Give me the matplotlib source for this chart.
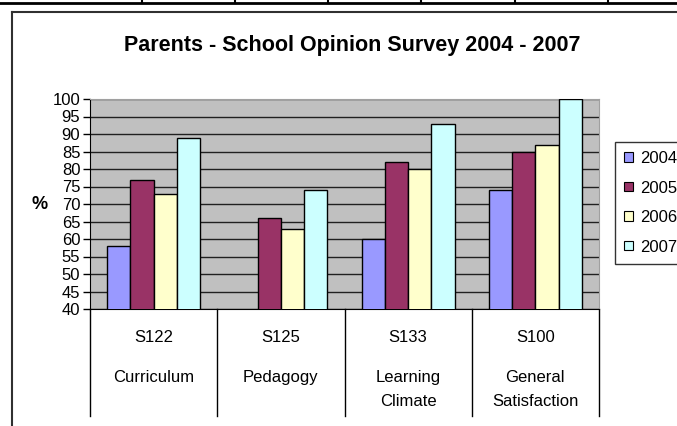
import numpy as np
import matplotlib
matplotlib.use("Agg")
import matplotlib.pyplot as plt
from matplotlib.lines import Line2D
from matplotlib.patches import Patch

plt.rcParams['font.family'] = ['Liberation Sans', 'DejaVu Sans']

codes = ["S122", "S125", "S133", "S100"]
areas = ["Curriculum", "Pedagogy", "Learning\nClimate", "General\nSatisfaction"]
years = ["2004", "2005", "2006", "2007"]
v2004 = [58, np.nan, 60, 74]
v2005 = [77, 66, 82, 85]
v2006 = [73, 63, 80, 87]
v2007 = [89, 74, 93, 100]
colors = ["#9999FF", "#993366", "#FFFFCC", "#CCFFFF"]

W, H = 677, 426
fig = plt.figure(figsize=(W / 100, H / 100), dpi=100)

# plot area in pixel terms
left, right, top, bottom = 90, 599, 99, 309
ax = fig.add_axes([left / W, 1 - bottom / H, (right - left) / W, (bottom - top) / H])
ax.set_facecolor("#C0C0C0")

x = np.arange(len(codes))
bw = 0.183
for i, (vals, c) in enumerate(zip([v2004, v2005, v2006, v2007], colors)):
    ax.bar(x + (i - 1.5) * bw, vals, bw, color=c, edgecolor="black",
           linewidth=1.0, zorder=3)

ax.set_xlim(-0.5, len(codes) - 0.5)
ax.set_ylim(40, 100)
ax.set_yticks(np.arange(40, 101, 5))
ax.yaxis.grid(True, color="#202020", linewidth=1.0, zorder=0)
ax.set_axisbelow(True)
ax.tick_params(axis="y", direction="out", length=5, width=1, labelsize=12, pad=2)
ax.set_xticks([])
for s in ["top", "right"]:
    ax.spines[s].set_color("#A0A0A0")
ax.spines["left"].set_color("black")
ax.spines["bottom"].set_color("black")

# category divider lines under the axis
tr = ax.get_xaxis_transform()
y_low = -(416 - bottom) / (bottom - top)
for b in np.arange(-0.5, len(codes), 1.0):
    ax.plot([b, b], [0, y_low], color="black", linewidth=1.0,
            transform=tr, clip_on=False)

y_code = -(338 - bottom) / (bottom - top)
y_area = -(370 - bottom) / (bottom - top)
for xi, code, area in zip(x, codes, areas):
    ax.text(xi, y_code, code, transform=tr, ha="center", va="center", fontsize=12)
    ax.text(xi, y_area, area, transform=tr, ha="center", va="top",
            fontsize=12, linespacing=1.75)

fig.text(40 / W, 1 - 205 / H, "%", fontsize=13, fontweight="bold",
         ha="center", va="center")
fig.text(352 / W, 1 - 45 / H, "Parents - School Opinion Survey 2004 - 2007",
         fontsize=15.5, fontweight="bold", ha="center", va="center")

handles = [Patch(facecolor=c, edgecolor="black", linewidth=0.8) for c in colors]
leg = fig.legend(handles, years, loc="upper left",
                 bbox_to_anchor=(615 / W, 1 - 142 / H), fontsize=12,
                 frameon=True, fancybox=False, edgecolor="black",
                 handlelength=0.5, handleheight=0.5, handletextpad=0.45,
                 labelspacing=0.87, borderpad=0.55, borderaxespad=0)
leg.get_frame().set_linewidth(1.0)

# chart frame and the sheet border above it
fig.add_artist(Line2D([12 / W, 1], [1 - 12 / H, 1 - 12 / H], color="#303030",
                      linewidth=1.5, transform=fig.transFigure))
fig.add_artist(Line2D([12 / W, 12 / W], [1 - 12 / H, 0], color="#303030",
                      linewidth=1.5, transform=fig.transFigure))
fig.add_artist(Line2D([0, 1], [1 - 3 / H, 1 - 3 / H], color="black",
                      linewidth=2, transform=fig.transFigure))
for px in [142, 235, 328, 421, 515, 608]:
    fig.add_artist(Line2D([px / W, px / W], [1, 1 - 3 / H], color="black",
                          linewidth=1.5, transform=fig.transFigure))

fig.savefig("out.png", dpi=100)
